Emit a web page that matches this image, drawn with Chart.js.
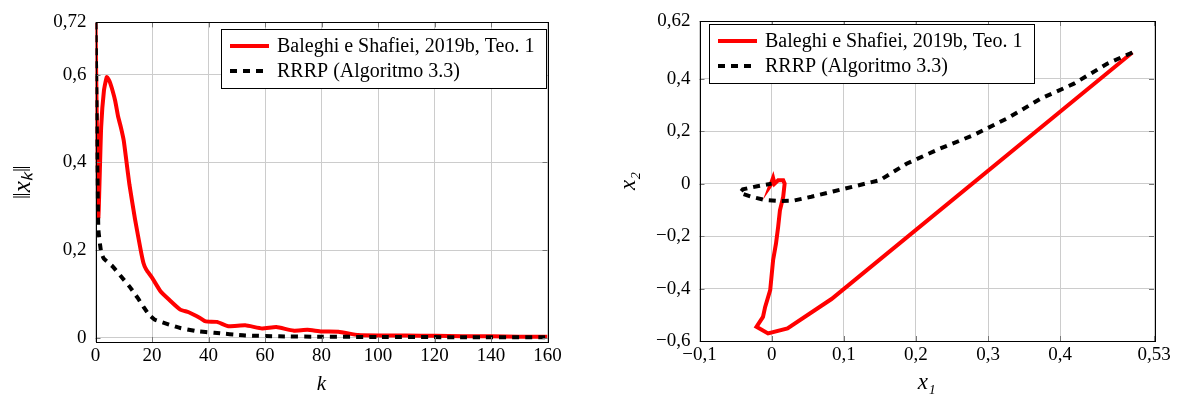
<!DOCTYPE html>
<html>
<head>
<meta charset="utf-8">
<script src="https://cdn.jsdelivr.net/npm/chart.js@4.4.1/dist/chart.umd.min.js"></script>
<style>
  html, body { margin: 0; padding: 0; background: #fff; }
  .panel { position: absolute; top: 0; height: 394px; }
  #leftPanel { left: 0; width: 590px; }
  #rightPanel { left: 590px; width: 591px; }
</style>
</head>
<body>
<div class="panel" id="leftPanel"><canvas id="normChart"></canvas></div>
<div class="panel" id="rightPanel"><canvas id="stateChart"></canvas></div>
<script>
// Legend labels
const LABEL_BALEGHI = "Baleghi e Shafiei, 2019b, Teo. 1";
const LABEL_RRRP = "RRRP (Algoritmo 3.3)";

// ||x_k|| against iteration k
const baleghiK = [0, 1, 2, 3, 4, 5, 6, 7, 8, 9, 10, 11, 12, 14, 16, 17, 18, 20, 23, 26, 30, 33, 37, 39, 43, 47, 53, 59, 64, 70, 75, 80, 86, 93, 100, 110, 120, 130, 140, 150, 160];
const baleghiNorm = [0.72, 0.275, 0.48, 0.565, 0.595, 0.585, 0.565, 0.54, 0.505, 0.48, 0.45, 0.40, 0.35, 0.27, 0.20, 0.17, 0.155, 0.137, 0.106, 0.087, 0.064, 0.058, 0.045, 0.037, 0.036, 0.026, 0.028, 0.021, 0.024, 0.016, 0.018, 0.014, 0.0135, 0.006, 0.005, 0.005, 0.004, 0.003, 0.003, 0.002, 0.002];
const rrrpK = [0, 1, 2, 3, 6, 9, 12, 15, 17, 19, 21, 25, 30, 36, 42, 53, 65, 80, 100, 130, 160];
const rrrpNorm = [0.72, 0.25, 0.195, 0.18, 0.163, 0.14, 0.117, 0.09, 0.07, 0.052, 0.041, 0.032, 0.022, 0.0145, 0.011, 0.005, 0.003, 0.002, 0.0015, 0.001, 0.001];

// State trajectory (x1, x2)
const baleghiX1 = [0.5, 0.083, 0.022, -0.005, -0.021, -0.012, -0.009, -0.002, 0.002, 0.006, 0.009, 0.0115, 0.016, 0.018, 0.016, 0.009, 0.004, 0.002, -0.002, 0];
const baleghiX2 = [0.5, -0.44, -0.552, -0.571, -0.546, -0.508, -0.47, -0.406, -0.292, -0.229, -0.165, -0.102, -0.051, 0, 0.013, 0.013, 0, 0.022, -0.008, 0];
const rrrpX1 = [0.5, 0.465, 0.419, 0.373, 0.326, 0.279, 0.233, 0.187, 0.15, 0.118, 0.085, 0.055, 0.03, 0.01, -0.01, -0.027, -0.044, -0.04, -0.02, 0];
const rrrpX2 = [0.5, 0.457, 0.381, 0.324, 0.248, 0.184, 0.133, 0.076, 0.013, -0.008, -0.03, -0.05, -0.065, -0.066, -0.062, -0.051, -0.035, -0.022, -0.01, 0];

// Tick values
const normXTicks = [0, 20, 40, 60, 80, 100, 120, 140, 160];
const normYTicks = [0, 0.2, 0.4, 0.6, 0.72];
const stateXTicks = [-0.1, 0, 0.1, 0.2, 0.3, 0.4, 0.53];
const stateYTicks = [-0.6, -0.4, -0.2, 0, 0.2, 0.4, 0.62];

const FONT_FAMILY = '"Liberation Serif", serif';
const LEGEND_FONT = '20px "Liberation Serif", serif';
const GRID_COLOR = "#cccccc";

Chart.defaults.font.family = FONT_FAMILY;
Chart.defaults.font.size = 19;
Chart.defaults.color = "#000";

const zip = (xs, ys) => xs.map((x, i) => ({ x, y: ys[i] }));
const fmtTick = (v) => (v < 0 ? "\u2212" : "") + String(Math.abs(v)).replace(".", ",");

// Frame, inner tick marks and boxed legend
const frameLegendPlugin = {
  id: "frameLegend",
  afterDatasetsDraw(chart, args, opts) {
    const { ctx, chartArea: a, scales } = chart;
    ctx.save();

    // inner tick marks
    ctx.strokeStyle = "#777";
    ctx.lineWidth = 1;
    ctx.beginPath();
    scales.x.ticks.forEach((t) => {
      const px = Math.round(scales.x.getPixelForValue(t.value)) + 0.5;
      ctx.moveTo(px, a.bottom); ctx.lineTo(px, a.bottom - 5);
      ctx.moveTo(px, a.top); ctx.lineTo(px, a.top + 5);
    });
    scales.y.ticks.forEach((t) => {
      const py = Math.round(scales.y.getPixelForValue(t.value)) + 0.5;
      ctx.moveTo(a.left, py); ctx.lineTo(a.left + 5, py);
      ctx.moveTo(a.right, py); ctx.lineTo(a.right - 5, py);
    });
    ctx.stroke();

    // frame
    ctx.strokeStyle = "#000";
    ctx.strokeRect(Math.round(a.left) + 0.5, Math.round(a.top) + 0.5,
      Math.round(a.right - a.left), Math.round(a.bottom - a.top));

    // legend
    const items = chart.data.datasets;
    ctx.font = LEGEND_FONT;
    const textW = Math.max(...items.map((d) => ctx.measureText(d.label).width));
    const w = Math.round(9 + 39 + 8 + textW + 12);
    const h = 59;
    const x = Math.round(opts.side === "right" ? a.right - opts.dx - w : a.left + opts.dx);
    const y = Math.round(a.top + opts.dy);
    ctx.fillStyle = "#fff";
    ctx.fillRect(x, y, w, h);
    ctx.strokeStyle = "#000";
    ctx.strokeRect(x + 0.5, y + 0.5, w, h);
    items.forEach((d, i) => {
      const cy = y + 17 + i * 25;
      ctx.beginPath();
      ctx.setLineDash(d.borderDash || []);
      ctx.lineWidth = d.borderWidth;
      ctx.strokeStyle = d.borderColor;
      ctx.moveTo(x + 9, cy);
      ctx.lineTo(x + 48, cy);
      ctx.stroke();
      ctx.setLineDash([]);
      ctx.fillStyle = "#000";
      ctx.textBaseline = "middle";
      ctx.textAlign = "left";
      ctx.fillText(d.label, x + 56, cy + 1);
    });
    ctx.restore();
  },
};

const redSeries = (data, tension) => ({
  label: LABEL_BALEGHI,
  data,
  showLine: true,
  borderColor: "#ff0000",
  borderWidth: 4,
  pointRadius: 0,
  tension,
  order: 2,
});

const dashedSeries = (data, tension) => ({
  label: LABEL_RRRP,
  data,
  showLine: true,
  borderColor: "#000000",
  borderWidth: 4,
  borderDash: [7, 6],
  pointRadius: 0,
  tension,
  order: 1,
});

// Linear axis with fixed ticks and fixed box size
const makeAxis = (min, max, ticks, title, box) => ({
  type: "linear",
  min,
  max,
  afterBuildTicks: (s) => { s.ticks = ticks.map((v) => ({ value: v })); },
  afterFit: (s) => {
    if (box.width !== undefined) s.width = box.width;
    if (box.height !== undefined) s.height = box.height;
    s.paddingLeft = 0; s.paddingRight = 0; s.paddingTop = 0; s.paddingBottom = 0;
  },
  grid: { color: GRID_COLOR, drawTicks: false },
  border: { display: false },
  ticks: {
    padding: box.tickPad,
    autoSkip: false,
    maxRotation: 0,
    callback: (v) => fmtTick(v),
  },
  title: {
    display: true,
    text: title,
    font: { size: box.titleSize || 21, style: "italic" },
    padding: box.titlePad,
  },
});

const makeChart = (canvasId, datasets, xAxis, yAxis, padding, legend) =>
  new Chart(document.getElementById(canvasId), {
    type: "scatter",
    data: { datasets },
    options: {
      responsive: true,
      maintainAspectRatio: false,
      animation: false,
      layout: { padding },
      scales: { x: xAxis, y: yAxis },
      plugins: {
        legend: { display: false },
        tooltip: { enabled: false },
        frameLegend: legend,
      },
    },
    plugins: [frameLegendPlugin],
  });

// Norm of x_k per iteration
makeChart(
  "normChart",
  [redSeries(zip(baleghiK, baleghiNorm), 0.15), dashedSeries(zip(rrrpK, rrrpNorm), 0.15)],
  makeAxis(0, 160, normXTicks, "k", { height: 52, tickPad: 3, titlePad: { top: 0, bottom: -3 } }),
  makeAxis(-0.01, 0.72, normYTicks, "\u2016x\u2096\u2016", { width: 95.5, tickPad: 9, titleSize: 25, titlePad: { top: 8, bottom: 0 } }),
  { top: 22.4, right: 42.5, bottom: 0, left: 0 },
  { side: "right", dx: 2, dy: 7 }
);

// State-space trajectory
makeChart(
  "stateChart",
  [redSeries(zip(baleghiX1, baleghiX2), 0), dashedSeries(zip(rrrpX1, rrrpX2), 0)],
  makeAxis(-0.1, 0.53, stateXTicks, "x\u2081", { height: 53, tickPad: 3, titleSize: 23, titlePad: { top: 0, bottom: -3 } }),
  makeAxis(-0.6, 0.62, stateYTicks, "x\u2082", { width: 109.5, tickPad: 9, titleSize: 23, titlePad: { top: 25, bottom: 0 } }),
  { top: 21, right: 27, bottom: 0, left: 0 },
  { side: "left", dx: 9, dy: 3 }
);
</script>
</body>
</html>
